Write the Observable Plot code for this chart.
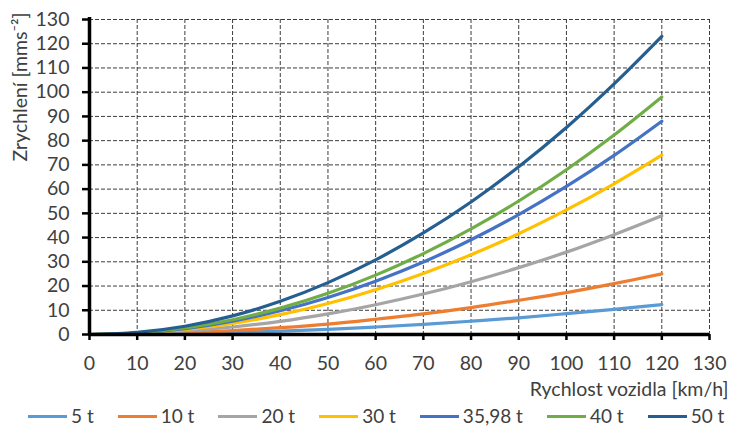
<!DOCTYPE html>
<html>
<head>
<meta charset="utf-8">
<script src="https://cdn.jsdelivr.net/npm/d3@7"></script>
<script src="https://cdn.jsdelivr.net/npm/@observablehq/plot@0.6"></script>
<style>
  html, body { margin: 0; padding: 0; background: #fff; }
  #chart svg { display: block; }
  .legend { display: flex; flex-wrap: nowrap; white-space: nowrap; align-items: center; height: 22px;
            padding-left: 28px; margin-top: 1px;
            font-family: Lato, "Open Sans", sans-serif; font-size: 19px; line-height: 22px; color: #404040; }
  .legend .item { display: inline-flex; align-items: center; margin-right: 24px; white-space: nowrap; flex: none; }
  .legend .sw { display: inline-block; width: 39px; height: 3px; margin-right: 4px; }
</style>
</head>
<body>
<div id="chart"></div>
<div class="legend" id="legend"></div>
<script>
// Vehicle speed [km/h]
const speeds = [0, 10, 20, 30, 40, 50, 60, 70, 80, 90, 100, 110, 120];

// Acceleration [mm/s²] for each vehicle mass
const a5t    = [0, 0.1, 0.3, 0.8, 1.4, 2.1, 3.1, 4.2, 5.5, 6.9, 8.6, 10.4, 12.3];
const a10t   = [0, 0.2, 0.7, 1.6, 2.8, 4.3, 6.3, 8.5, 11.1, 14.1, 17.3, 21.0, 25.0];
const a20t   = [0, 0.3, 1.4, 3.1, 5.4, 8.5, 12.3, 16.7, 21.8, 27.6, 34.0, 41.2, 49.0];
const a30t   = [0, 0.5, 2.1, 4.6, 8.2, 12.8, 18.5, 25.2, 32.9, 41.6, 51.4, 62.2, 74.0];
const a3598t = [0, 0.6, 2.4, 5.5, 9.8, 15.3, 22.0, 29.9, 39.1, 49.5, 61.1, 73.9, 88.0];
const a40t   = [0, 0.7, 2.7, 6.1, 10.9, 17.0, 24.5, 33.4, 43.6, 55.1, 68.0, 82.3, 98.0];
const a50t   = [0, 0.9, 3.4, 7.7, 13.7, 21.4, 30.8, 41.9, 54.7, 69.2, 85.4, 103.4, 123.0];

const seriesNames = ["5 t", "10 t", "20 t", "30 t", "35,98 t", "40 t", "50 t"];
const seriesValues = [a5t, a10t, a20t, a30t, a3598t, a40t, a50t];
const seriesColors = ["#5B9BD5", "#ED7D31", "#A5A5A5", "#FFC000", "#4472C4", "#70AD47", "#255E91"];

const axisTicks = d3.range(0, 131, 10);
const gridTicks = d3.range(10, 131, 10);

const rows = seriesNames.flatMap((name, i) =>
  speeds.map((v, j) => ({series: name, speed: v, acc: seriesValues[i][j]}))
);

const textColor = "#404040";

const chart = Plot.plot({
  width: 732,
  height: 404,
  marginLeft: 89,
  marginRight: 23,
  marginTop: 19,
  marginBottom: 70,
  style: {fontFamily: "Lato, 'Open Sans', sans-serif", fontSize: "19.5px", background: "#fff"},
  x: {domain: [0, 130]},
  y: {domain: [0, 130]},
  color: {domain: seriesNames, range: seriesColors},
  marks: [
    Plot.gridX(gridTicks, {stroke: "#3c3c3c", strokeOpacity: 1, strokeWidth: 1, strokeDasharray: "4,2"}),
    Plot.gridY(gridTicks, {stroke: "#3c3c3c", strokeOpacity: 1, strokeWidth: 1, strokeDasharray: "4,2"}),
    Plot.line(rows, {x: "speed", y: "acc", z: "series", stroke: "series", strokeWidth: 3.2, curve: "catmull-rom"}),
    Plot.axisX(axisTicks, {tickSize: 6, tickPadding: 16, stroke: "#000", strokeWidth: 2.5, fill: textColor, label: null}),
    Plot.axisY(axisTicks, {tickSize: 7, tickPadding: 13, stroke: "#000", strokeWidth: 2.5, fill: textColor, label: null}),
    Plot.ruleX([0], {stroke: "#000", strokeWidth: 3.5, y1: 0, y2: 130.8}),
    Plot.ruleY([0], {stroke: "#000", strokeWidth: 3.5}),
    Plot.text(["Rychlost vozidla [km/h]"], {frameAnchor: "bottom-right", textAnchor: "end", lineAnchor: "middle", dx: 19, dy: 55, fill: textColor}),
    Plot.text(["Zrychlení [mms⁻²]"], {frameAnchor: "top-left", textAnchor: "end", lineAnchor: "middle", rotate: -90, dx: -69, dy: -7, fill: textColor})
  ]
});
document.getElementById("chart").appendChild(chart);

// Legend below the chart
const legend = d3.select("#legend");
seriesNames.forEach((name, i) => {
  const item = legend.append("span").attr("class", "item");
  item.append("span").attr("class", "sw").style("background", seriesColors[i]);
  item.append("span").text(name);
});
</script>
</body>
</html>
